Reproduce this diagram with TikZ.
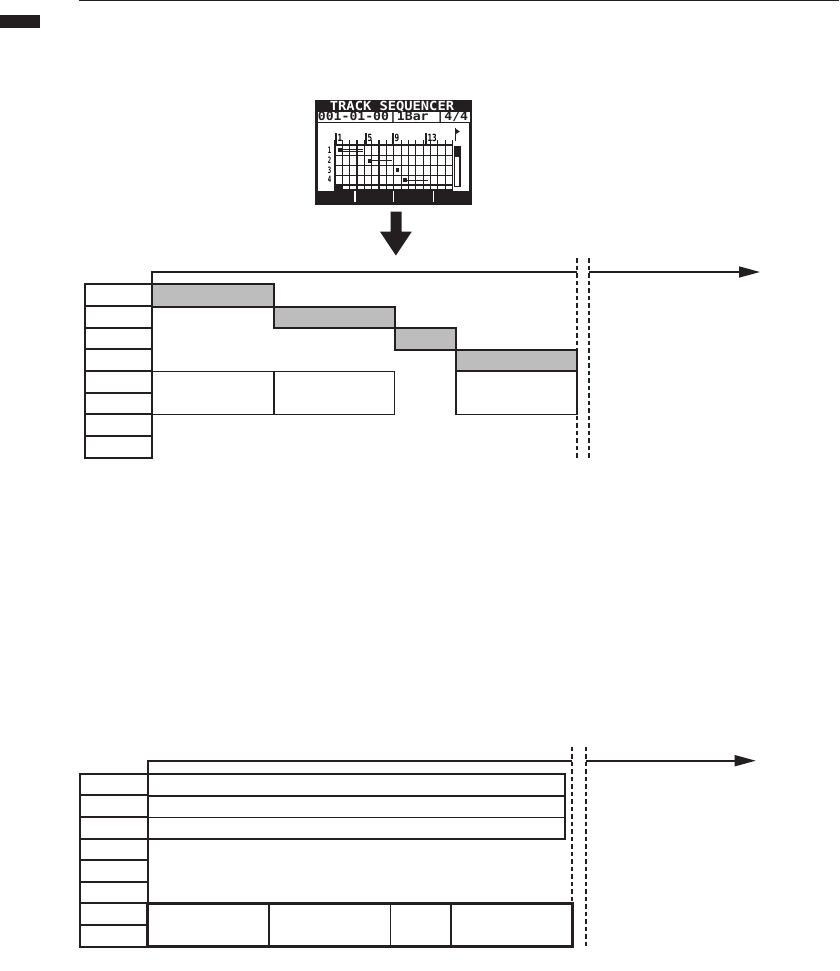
\documentclass[tikz,border=0pt]{standalone}
\usepackage{fontspec}
\newfontfamily\lcdfont{DejaVu Sans Mono}
\usetikzlibrary{arrows.meta}
\definecolor{ink}{HTML}{231F20}
\definecolor{barfill}{HTML}{BDBDBD}
\begin{document}
\begin{tikzpicture}[x=1pt,y=-1pt,line join=miter,
  thickline/.style={draw=ink,line width=2pt},
  thinline/.style={draw=ink,line width=1.2pt},
  heavyline/.style={draw=ink,line width=3pt},
  dashline/.style={draw=ink,line width=1.6pt,dash pattern=on 4.5pt off 3pt},
  axisline/.style={draw=ink,line width=1.6pt},
  gridline/.style={draw=ink,line width=1.2pt},
  graybar/.style={thickline,fill=barfill},
  lcdtext/.style={inner sep=0pt,font=\lcdfont\bfseries\fontsize{12.5}{12.5}\selectfont}]
\useasboundingbox (0,0) rectangle (839,971);
% header
\draw[ink,line width=1pt] (79,1) -- (839,1);
\fill[ink] (0,15) rectangle (40,28);

% ---------- LCD screen ----------
\fill[ink] (315,100) rectangle (472,205);
\fill[white] (317.5,111.6) rectangle (469.5,121.8);
\fill[white] (318,123.5) rectangle (469,191);
\node[lcdtext,text=white,anchor=base] (title) at (392,110.4) {\scalebox{1.1}[1]{TRACK SEQUENCER}};
\node[lcdtext,text=ink,anchor=base] (status) at (393,121) {\scalebox{1.05}[0.95]{001-01-00|1Bar |4/4}};
% header numbers
\foreach \xx/\lab in {336/1,366/5,393/9,426/13}{
  \draw[gridline] (\xx,133) -- (\xx,144);
  \node[inner sep=0pt,anchor=base west,font=\lcdfont\bfseries\fontsize{9}{9}\selectfont] at (\xx+1.3,141.5) {\scalebox{0.85}[1.1]{\lab}};
}
\fill[ink] (455.2,128.5) -- (459.8,131.5) -- (455.2,134.5) -- cycle;
\draw[gridline] (455.2,128.5) -- (455.2,141);
% grid
\foreach \i in {0,...,16}{
  \draw[gridline] ({335+\i*7.344},140) -- ({335+\i*7.344},190.5);
}
\foreach \yy in {145,155.3,165.5,175.3,185,190}{
  \draw[gridline] (335,\yy) -- (452.5,\yy);
}
\draw[ink,line width=2pt] (335,140) -- (335,190.5);
% row labels
\foreach \yy/\lab in {150/1,160/2,170/3,179.5/4}{
  \node[inner sep=0pt,font=\lcdfont\bfseries\fontsize{7}{7}\selectfont] at (329.5,\yy) {\scalebox{0.8}[1.25]{\lab}};
}
% notes
\fill[ink] (338,148.3) rectangle (341.8,152.2);
\draw[ink,line width=0.8pt] (341.8,149.3) -- (363,149.3) (341.8,151.2) -- (363,151.2);
\fill[ink] (368,158.8) rectangle (371.8,162.6);
\draw[ink,line width=1pt] (371.8,160.7) -- (392,160.7);
\fill[ink] (395.6,168.4) rectangle (399,172.4);
\fill[ink] (403.4,178.2) rectangle (407,182);
\draw[ink,line width=1pt] (407,180.1) -- (428.3,180.1);
\fill[ink] (335,185.5) rectangle (343,190.5);
% scroll bar
\draw[ink,line width=1.2pt,fill=white] (454.5,147) rectangle (460,186.5);
\fill[ink] (454.5,147) rectangle (460,157);
% soft keys
\foreach \xx in {355,393.3,433.3}{
  \draw[white,line width=1.6pt] (\xx,191) -- (\xx,202);
}
% big down arrow
\fill[ink] (390.7,211.7) -- (401.7,211.7) -- (401.7,231.7) -- (411.7,231.7)
  -- (395.9,255.5) -- (380,231.7) -- (390.7,231.7) -- cycle;

% ---------- top diagram ----------
\foreach \k in {0,...,7}{
  \draw[thickline] (85,{284.3+\k*21.675}) rectangle (152,{284.3+(\k+1)*21.675});
}
\draw[axisline] (152,285) -- (152,272) -- (577,272);
\draw[axisline,-{Triangle[length=21pt,width=11pt]}] (589,272) -- (760,272);
\draw[graybar] (152,284.3) rectangle (273.7,306.7);
\draw[graybar] (273.7,306.7) rectangle (394.7,328);
\draw[graybar] (394.7,328) rectangle (456,349.7);
\draw[graybar] (456,349.7) rectangle (577,371.3);
\draw[thinline] (152,371.3) rectangle (273.7,414.3);
\draw[thinline] (273.7,371.3) rectangle (394.7,414.3);
\draw[thickline] (273.7,371.3) -- (273.7,414.3);
\draw[thinline] (456,371.3) rectangle (577,414.3);
\draw[dashline] (577,258) -- (577,458);
\draw[dashline] (589,258) -- (589,458);

% ---------- bottom diagram ----------
\foreach \k in {0,...,7}{
  \draw[thickline] (80,{773.7+\k*21.625}) rectangle (147.7,{773.7+(\k+1)*21.625});
}
\draw[axisline] (147.7,774) -- (147.7,760.7) -- (572,760.7);
\draw[axisline,-{Triangle[length=21pt,width=11pt]}] (585.7,760.7) -- (755.7,760.7);
\draw[thickline] (147.7,773.7) rectangle (564.7,839);
\draw[thickline] (147.7,795.7) -- (564.7,795.7);
\draw[thinline] (147.7,817.3) -- (564.7,817.3);
\draw[heavyline] (147.7,903.7) rectangle (572.7,946.7);
\draw[thickline] (269,903.7) -- (269,946.7);
\draw[thinline] (390.3,903.7) -- (390.3,946.7);
\draw[thickline] (450.7,903.7) -- (450.7,946.7);
\draw[dashline] (572,746.7) -- (572,903);
\draw[dashline] (585.7,746.7) -- (585.7,946.7);
\end{tikzpicture}
\end{document}
